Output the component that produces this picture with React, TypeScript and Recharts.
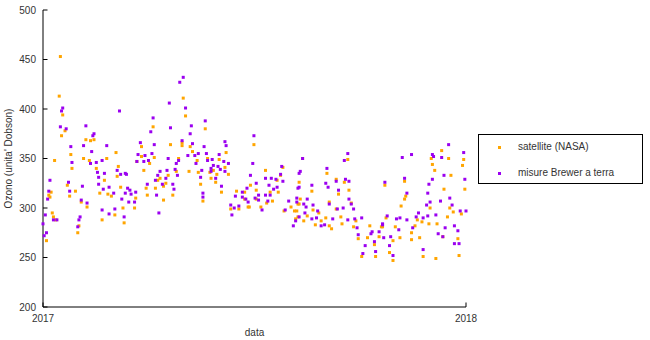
import React from "react";
import { ScatterChart, Scatter, XAxis, YAxis } from "recharts";

// [day of year 2017, ozone (Dobson units)]
const satellite: [number, number][] = [
  [3,267],[5,313],[6,311],[7,316],[8,295],[9,291],[10,348],[11,288],[14,413],[15,453],[16,373],[17,394],[19,378],[21,323],[23,312],[24,354],[25,340],[28,317],[30,275],[31,282],[33,306],[35,350],[37,369],[38,301],[40,348],[41,368],[44,369],[46,340],[49,315],[51,288],[53,328],[55,350],[56,314],[59,312],[62,293],[63,356],[64,332],[65,342],[67,321],[69,300],[70,285],
  [79,300],[80,310],[81,347],[85,362],[85,352],[87,338],[89,320],[90,313],[92,345],[95,382],[96,351],[97,320],[99,328],[101,330],[104,322],[104,308],[106,325],[108,333],[110,364],[112,313],[115,337],[117,350],[120,366],[120,363],[121,411],[123,393],[126,337],[127,362],[129,357],[133,348],[134,336],[136,324],[138,307],[140,380],[142,350],[144,336],[145,330],
  [147,338],[149,326],[150,334],[152,349],[154,316],[157,341],[158,356],[160,334],[162,299],[167,317],[169,299],[174,316],[174,309],[177,301],[178,301],[179,323],[182,364],[184,318],[184,309],[188,301],[192,338],[193,305],[196,316],[198,307],[202,328],[203,316],[205,333],[207,341],[208,297],[214,301],[217,297],[218,289],[219,297],[220,304],[220,291],[221,326],
  [221,304],[222,309],[224,350],[225,287],[228,292],[232,317],[233,298],[235,283],[238,295],[240,287],[244,290],[245,335],[247,306],[247,282],[249,279],[253,329],[253,299],[255,314],[257,291],[258,284],[260,326],[263,349],[264,318],[266,305],[268,281],[270,287],[272,269],[275,251],[280,270],[282,282],[286,263],[287,251],[290,271],[292,281],[295,323],
  [293,281],[296,290],[299,255],[302,267],[302,247],[304,281],[308,270],[309,302],[312,327],[312,309],[313,312],[318,275],[318,268],[321,282],[323,288],[325,270],[327,286],[328,251],[333,284],[334,300],[335,350],[336,344],[338,338],[339,249],[340,284],[344,358],[345,271],[346,319],[349,291],[350,350],[351,300],[352,333],[354,296],[358,269],[359,252],[361,294],[362,343],[363,349],[364,319],
];

const brewer: [number, number][] = [
  [0,284],[1,272],[2,293],[3,275],[4,309],[5,317],[6,328],[9,288],[12,288],[15,382],[16,398],[17,401],[20,380],[22,326],[23,317],[24,362],[25,346],[30,281],[31,288],[32,291],[33,308],[34,322],[35,363],[37,383],[38,305],[41,345],[42,357],[43,373],[44,375],[46,346],[47,336],[48,331],[48,324],[51,348],[51,298],[52,319],[53,335],[55,363],[57,321],[57,294],[61,315],[62,299],[64,338],[66,398],[67,334],[68,309],[70,291],[71,315],[72,334],[73,320],[74,306],
  [71,335],[75,318],[76,314],[79,306],[80,316],[81,347],[82,354],[84,366],[87,347],[88,353],[90,324],[91,348],[93,377],[94,355],[95,391],[96,364],[97,328],[98,313],[99,333],[100,295],[101,337],[103,324],[106,330],[107,338],[108,350],[109,406],[110,381],[112,324],[113,319],[114,339],[115,345],[116,333],[117,348],[118,427],[120,368],[121,432],[123,401],[125,353],[127,375],[128,383],[129,365],[131,353],[132,345],[134,355],[136,331],[137,338],[138,315],[138,311],[139,362],[140,388],[141,355],[142,348],[145,340],[146,349],[147,343],
  [145,337],[149,330],[151,342],[152,354],[153,339],[154,322],[156,347],[157,367],[157,337],[158,363],[160,345],[162,303],[163,293],[165,300],[166,312],[169,302],[172,316],[172,311],[175,309],[176,320],[177,306],[179,333],[181,345],[182,373],[183,310],[184,325],[186,313],[186,308],[189,298],[192,330],[192,313],[194,307],[195,323],[196,313],[197,330],[199,319],[201,329],[202,321],[205,334],[206,342],[207,327],[209,298],[212,307],[216,282],[218,287],[219,306],[219,310],[220,320],[221,335],
  [221,321],[221,291],[222,337],[224,350],[225,304],[226,295],[227,301],[228,309],[232,323],[232,289],[233,303],[236,290],[237,297],[240,282],[243,283],[244,325],[245,340],[246,321],[247,304],[250,289],[253,327],[254,299],[255,318],[259,300],[260,348],[261,329],[263,355],[263,288],[264,327],[264,309],[266,304],[268,299],[269,289],[271,280],[272,273],[275,290],[276,254],[278,262],[283,274],[284,276],[286,266],[287,256],[290,276],[293,283],[294,270],[295,326],
  [293,284],[297,292],[299,262],[300,271],[302,252],[305,289],[307,278],[308,290],[310,351],[312,330],[314,288],[314,315],[318,354],[319,280],[322,291],[324,295],[328,258],[328,290],[331,303],[332,292],[332,315],[333,324],[334,306],[336,354],[336,329],[337,352],[339,293],[341,274],[343,307],[344,351],[345,271],[346,333],[347,280],[350,364],[351,310],[353,303],[355,282],[355,264],[358,277],[359,264],[360,297],[363,356],[364,329],[365,297],
];

const xTicks = [0, 365];
const xTickLabels = ["2017", "2018"];
const yTicks = [200, 250, 300, 350, 400, 450, 500];

const seriesNames = ["satellite (NASA)", "misure Brewer a terra"];
const ORANGE = "#ffa500";
const PURPLE = "#9b00f0";
const FONT = "'Liberation Sans', Arial, sans-serif";
const TEXT = "#333";
const FS = 10;

const toRows = (arr: [number, number][]) => arr.map(([d, v]) => ({ day: d, ozone: v }));

const marker = (color: string) => (props: any) => (
  <rect x={props.cx - 1.5} y={props.cy - 1.5} width={3} height={3} fill={color} />
);

const YTick = (props: any) => {
  const { x, y, payload } = props;
  return (
    <g>
      <line x1={x} x2={x + 4.5} y1={y} y2={y} stroke="#000" strokeWidth={1} />
      <text x={x - 7} y={y} dy={3.5} textAnchor="end" fontSize={FS} fontFamily={FONT} fill={TEXT}>
        {payload.value}
      </text>
    </g>
  );
};

const XTick = (props: any) => {
  const { x, y, payload } = props;
  const idx = xTicks.indexOf(payload.value);
  return (
    <g>
      <line x1={x} x2={x} y1={y} y2={y - 4.5} stroke="#000" strokeWidth={1} />
      <text x={x} y={y + 15} textAnchor="middle" fontSize={FS} fontFamily={FONT} fill={TEXT}>
        {xTickLabels[idx]}
      </text>
    </g>
  );
};

const LegendBox = () => (
  <div
    style={{
      position: "absolute",
      left: 478,
      top: 134,
      width: 165,
      height: 50,
      border: "1px solid #000",
      boxSizing: "border-box",
      fontFamily: FONT,
      fontSize: FS,
      color: TEXT,
      background: "#fff",
    }}
  >
    {seriesNames.map((n, i) => (
      <div key={n} style={{ position: "absolute", left: 0, top: i === 0 ? 5 : 31, height: 14, width: "100%" }}>
        <span
          style={{
            position: "absolute",
            left: 19,
            top: 6,
            width: 3,
            height: 3,
            background: i === 0 ? ORANGE : PURPLE,
          }}
        />
        <span style={{ position: "absolute", left: 39, top: 0, whiteSpace: "nowrap", lineHeight: "14px" }}>{n}</span>
      </div>
    ))}
  </div>
);

export default function App() {
  return (
    <div style={{ position: "absolute", left: 0, top: 0, width: 650, height: 340, background: "#fff" }}>
      <ScatterChart width={650} height={340} margin={{ top: 10, right: 184, bottom: 0, left: 0 }}>
        <XAxis
          type="number"
          dataKey="day"
          domain={[0, 365]}
          ticks={xTicks}
          interval={0}
          height={33}
          tickSize={0}
          tickMargin={0}
          tickLine={false}
          tick={<XTick />}
          axisLine={{ stroke: "#000", strokeWidth: 1 }}
          label={{ value: "data", position: "insideBottom", offset: 4, fontSize: FS, fontFamily: FONT, fill: TEXT }}
        />
        <YAxis
          type="number"
          dataKey="ozone"
          domain={[200, 500]}
          ticks={yTicks}
          interval={0}
          width={43}
          tickSize={0}
          tickMargin={0}
          tickLine={false}
          tick={<YTick />}
          axisLine={{ stroke: "#000", strokeWidth: 1 }}
          label={{
            value: "Ozono (unita' Dobson)",
            angle: -90,
            position: "insideLeft",
            offset: 0,
            dx: 8,
            style: { textAnchor: "middle", fontSize: FS, fontFamily: FONT, fill: TEXT },
          }}
        />
        <Scatter
          name={seriesNames[0]}
          data={toRows(satellite)}
          fill={ORANGE}
          shape={marker(ORANGE)}
          isAnimationActive={false}
        />
        <Scatter
          name={seriesNames[1]}
          data={toRows(brewer)}
          fill={PURPLE}
          shape={marker(PURPLE)}
          isAnimationActive={false}
        />
      </ScatterChart>
      <LegendBox />
    </div>
  );
}
